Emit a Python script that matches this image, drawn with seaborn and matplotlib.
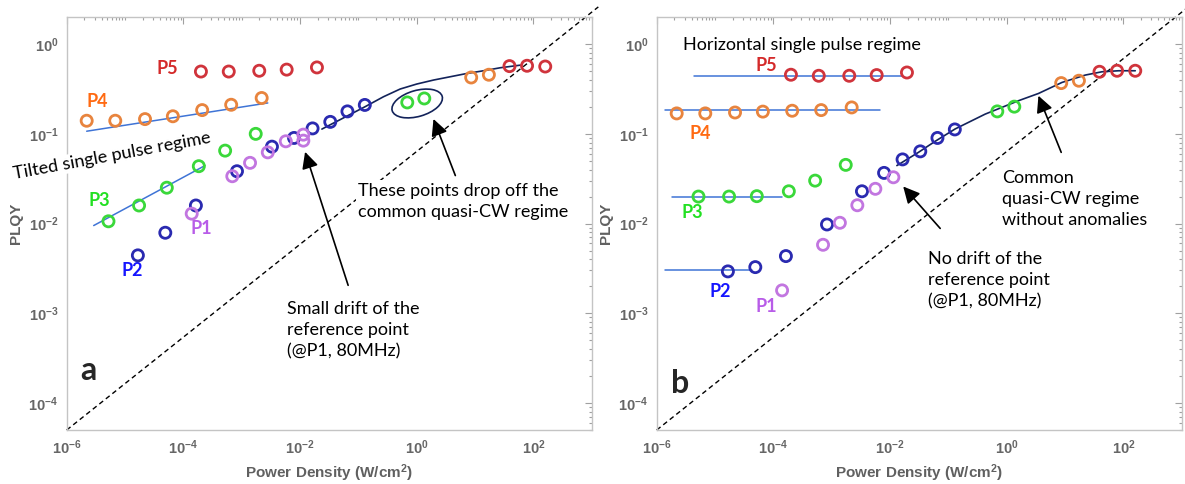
import numpy as np
import matplotlib
matplotlib.use("Agg")
import matplotlib.pyplot as plt
from matplotlib.patches import Ellipse
from matplotlib.transforms import ScaledTranslation
from matplotlib.ticker import LogLocator, FixedLocator, NullFormatter, FuncFormatter
import seaborn as sns

# Datos (densidad de potencia W/cm2 y PLQY)
p5_x = [2.0e-4, 6.0e-4, 2.0e-3, 5.9e-3, 1.95e-2, 39, 78, 160]
p4_x = [2.2e-6, 6.8e-6, 2.2e-5, 6.6e-5, 2.1e-4, 6.6e-4, 2.2e-3, 8.6, 17.3]
p3_x = [5.2e-6, 1.74e-5, 5.2e-5, 1.84e-4, 5.2e-4, 1.74e-3, 0.69, 1.35]
p2_x = [1.66e-5, 4.9e-5, 1.64e-4, 8.3e-4, 3.3e-3, 7.9e-3, 1.64e-2, 3.3e-2, 6.5e-2, 0.129]

# panel a
p5_a = [0.495, 0.495, 0.505, 0.52, 0.55, 0.569, 0.574, 0.563]
p4_a = [0.140, 0.140, 0.146, 0.157, 0.184, 0.211, 0.251, 0.425, 0.456]
p3_a = [0.0106, 0.0159, 0.0251, 0.0436, 0.065, 0.100, 0.224, 0.248]
p2_a = [0.00442, 0.0079, 0.0159, 0.0383, 0.072, 0.090, 0.115, 0.136, 0.178, 0.210]
p1_x_a = [1.39e-4, 6.9e-4, 1.39e-3, 2.8e-3, 5.7e-3, 1.14e-2, 1.14e-2]
p1_a = [0.0129, 0.0337, 0.0475, 0.0622, 0.0826, 0.098, 0.084]

fit4_x_a = [2.2e-6, 2.8e-3]
fit4_a = [0.107, 0.221]
fit3_x_a = [2.9e-6, 2.35e-4]
fit3_a = [0.0095, 0.0443]
curva_x_a = [0.0237, 0.131, 0.269, 0.521, 1.0, 1.95, 3.76, 7.24, 14.0, 26.9, 59.6]
curva_a = [0.113, 0.201, 0.259, 0.316, 0.359, 0.398, 0.433, 0.471, 0.505, 0.545, 0.583]

# panel b
p5_b = [0.456, 0.444, 0.444, 0.452, 0.483, 0.492, 0.505, 0.505]
p4_b = [0.169, 0.169, 0.173, 0.177, 0.181, 0.184, 0.197, 0.368, 0.391]
p3_b = [0.0200, 0.0200, 0.0202, 0.0229, 0.0301, 0.0451, 0.178, 0.201]
p2_b = [0.00293, 0.00327, 0.00434, 0.00977, 0.0229, 0.0367, 0.0519, 0.0638, 0.090, 0.112]
p1_x_b = [1.41e-4, 7.1e-4, 1.38e-3, 2.75e-3, 5.6e-3, 1.14e-2]
p1_b = [0.0018, 0.0058, 0.0102, 0.0160, 0.0244, 0.0328]

fit5_x_b = [4.4e-6, 1.63e-2]
fit5_b = [0.444, 0.444]
fit4_x_b = [1.4e-6, 6.8e-3]
fit4_b = [0.184, 0.184]
fit3_x_b = [1.8e-6, 1.4e-4]
fit3_b = [0.0198, 0.0198]
fit2_x_b = [1.4e-6, 4.3e-5]
fit2_b = [0.0030, 0.0030]
curva_x_b = [0.0131, 0.0307, 0.0594, 0.131, 0.428, 1.59, 3.51, 8.85, 22.2, 43.0, 82.8, 160]
curva_b = [0.0443, 0.0622, 0.0826, 0.1135, 0.166, 0.234, 0.282, 0.374, 0.452, 0.492, 0.505, 0.505]

# linea de referencia discontinua
ref_x = [1e-6, 1.3e3]
ref_y = [5e-5, 2.6]

# ticks con etiqueta
xticks = [1e-6, 1e-4, 1e-2, 1e0, 1e2]
yticks = [1e-4, 1e-3, 1e-2, 1e-1, 1e0]

# Colores
C5, C4, C3, C2, C1 = "#d0343c", "#e8843e", "#3ad83a", "#2a2ab0", "#c276e0"
L5, L4, L3, L2, L1 = "#d42a2a", "#ff6a12", "#22e022", "#1515ff", "#b85ce8"
FIT = "#3f74d6"
CURVA = "#13235a"

sns.set_style("white")
plt.rcParams["font.family"] = ["Liberation Sans", "DejaVu Sans"]
plt.rcParams["mathtext.fontset"] = "custom"
plt.rcParams["mathtext.rm"] = "Liberation Sans:bold"
plt.rcParams["mathtext.bf"] = "Liberation Sans:bold"
plt.rcParams["mathtext.it"] = "Liberation Sans:bold"

fig = plt.figure(figsize=(11.85, 4.84), dpi=100)
ax_a = fig.add_axes([0.0563, 0.1116, 0.443, 0.853])
ax_b = fig.add_axes([0.5542, 0.1116, 0.443, 0.853])

TXT = dict(family=["Lato", "DejaVu Sans"], fontsize=13, color="black")
LBL = dict(family=["Lato", "DejaVu Sans"], fontsize=13, fontweight="bold")

potencia = FuncFormatter(lambda v, _: r"$\mathbf{10^{%d}}$" % round(np.log10(v)))


def estilo(ax):
    ax.set_xscale("log")
    ax.set_yscale("log")
    ax.set_xlim(1e-6, 1e3)
    ax.set_ylim(5e-5, 2)
    ax.xaxis.set_major_locator(FixedLocator(xticks))
    ax.xaxis.set_minor_locator(LogLocator(base=10, subs=np.arange(1, 10), numticks=40))
    ax.yaxis.set_major_locator(FixedLocator(yticks))
    ax.yaxis.set_minor_locator(LogLocator(base=10, subs=np.arange(2, 10), numticks=40))
    ax.xaxis.set_major_formatter(potencia)
    ax.yaxis.set_major_formatter(potencia)
    ax.xaxis.set_minor_formatter(NullFormatter())
    ax.yaxis.set_minor_formatter(NullFormatter())
    ax.tick_params(which="both", direction="in", top=True, right=True,
                   color="#a0a0a0", labelcolor="#666666", labelsize=10.5, width=0.8)
    ax.tick_params(which="major", length=5, pad=6)
    ax.tick_params(which="minor", length=2.5)
    for s in ax.spines.values():
        s.set_color("#c4c4c4")
        s.set_linewidth(1.0)
    ax.set_xlabel("Power Density (W/cm$^2$)", fontsize=11, fontweight="bold",
                  color="#606060", labelpad=4)
    ax.set_ylabel("PLQY", fontsize=11, fontweight="bold", color="#606060", labelpad=4)


def circulos(ax, x, y, color):
    sns.scatterplot(x=x, y=y, ax=ax, marker="o", s=64, facecolor="none",
                    edgecolor=color, linewidth=2.0, zorder=4)


def recta(ax, x, y, color=FIT, lw=1.1):
    sns.lineplot(x=x, y=y, ax=ax, color=color, linewidth=lw, estimator=None, sort=False, zorder=3)


def flecha(ax, texto_xy, punta_xy):
    ax.annotate("", xy=punta_xy, xytext=texto_xy,
                arrowprops=dict(arrowstyle="-|>", color="black", lw=1.2,
                                mutation_scale=25, shrinkA=0, shrinkB=0), zorder=5)


for ax in (ax_a, ax_b):
    estilo(ax)
    sns.lineplot(x=ref_x, y=ref_y, ax=ax, color="black", linewidth=1.0,
                 linestyle=(0, (3.5, 2.5)), estimator=None, clip_on=False, zorder=2)

# ---- Panel a ----
recta(ax_a, fit4_x_a, fit4_a)
recta(ax_a, fit3_x_a, fit3_a)
recta(ax_a, curva_x_a, curva_a, color=CURVA, lw=1.2)
circulos(ax_a, p5_x, p5_a, C5)
circulos(ax_a, p4_x, p4_a, C4)
circulos(ax_a, p3_x, p3_a, C3)
circulos(ax_a, p2_x, p2_a, C2)
circulos(ax_a, p1_x_a, p1_a, C1)

elipse = Ellipse((0, 0), width=0.52, height=0.26, angle=16, fill=False,
                 edgecolor=CURVA, linewidth=1.2,
                 transform=fig.dpi_scale_trans + ScaledTranslation(1.02, 0.218, ax_a.transData))
ax_a.add_patch(elipse)

ax_a.text(5.4e-5, 0.535, "P5", color=L5, ha="center", va="center", **LBL)
ax_a.text(3.4e-6, 0.228, "P4", color=L4, ha="center", va="center", **LBL)
ax_a.text(3.6e-6, 0.0181, "P3", color=L3, ha="center", va="center", **LBL)
ax_a.text(1.33e-5, 0.0030, "P2", color=L2, ha="center", va="center", **LBL)
ax_a.text(2.07e-4, 0.00875, "P1", color=L1, ha="center", va="center", **LBL)
ax_a.text(2.34e-6, 2.3e-4, "a", ha="center", va="center",
          family=["Lato", "DejaVu Sans"], fontsize=23, fontweight="bold")

ax_a.text(6.0e-6, 0.057, "Tilted single pulse regime", ha="center", va="center",
          rotation=10.5, bbox=dict(fc="white", ec="none", pad=1), zorder=6, **TXT)
ax_a.text(0.1, 0.0177, "These points drop off the\ncommon quasi-CW regime",
          ha="left", va="center", linespacing=1.4,
          bbox=dict(fc="white", ec="none", pad=2), zorder=6, **TXT)
ax_a.text(5.9e-3, 6.5e-4, "Small drift of the\nreference point\n(@P1, 80MHz)",
          ha="left", va="center", linespacing=1.4, zorder=6, **TXT)
flecha(ax_a, (4.6, 0.0343), (1.94, 0.1465))
flecha(ax_a, (0.0668, 2.05e-3), (0.0122, 0.063))

# ---- Panel b ----
recta(ax_b, fit5_x_b, fit5_b)
recta(ax_b, fit4_x_b, fit4_b)
recta(ax_b, fit3_x_b, fit3_b)
recta(ax_b, fit2_x_b, fit2_b)
recta(ax_b, curva_x_b, curva_b, color=CURVA, lw=1.2)
circulos(ax_b, p5_x, p5_b, C5)
circulos(ax_b, p4_x, p4_b, C4)
circulos(ax_b, p3_x, p3_b, C3)
circulos(ax_b, p2_x, p2_b, C2)
circulos(ax_b, p1_x_b, p1_b, C1)

ax_b.text(7.7e-5, 0.574, "P5", color=L5, ha="center", va="center", **LBL)
ax_b.text(5.5e-6, 0.101, "P4", color=L4, ha="center", va="center", **LBL)
ax_b.text(4.0e-6, 0.0134, "P3", color=L3, ha="center", va="center", **LBL)
ax_b.text(1.22e-5, 0.00177, "P2", color=L2, ha="center", va="center", **LBL)
ax_b.text(7.7e-5, 0.0012, "P1", color=L1, ha="center", va="center", **LBL)
ax_b.text(2.5e-6, 1.65e-4, "b", ha="center", va="center",
          family=["Lato", "DejaVu Sans"], fontsize=23, fontweight="bold")

ax_b.text(2.86e-6, 0.98, "Horizontal single pulse regime", ha="left", va="center", **TXT)
ax_b.text(0.828, 0.0189, "Common\nquasi-CW regime\nwithout anomalies",
          ha="left", va="center", linespacing=1.4, zorder=6, **TXT)
ax_b.text(0.0451, 0.00233, "No drift of the\nreference point\n(@P1, 80MHz)",
          ha="left", va="center", linespacing=1.4, zorder=6, **TXT)
flecha(ax_b, (8.6, 0.0622), (3.5, 0.266))
flecha(ax_b, (0.0724, 0.00883), (0.0168, 0.0259))

plt.savefig("out.png", dpi=100)
plt.close()
